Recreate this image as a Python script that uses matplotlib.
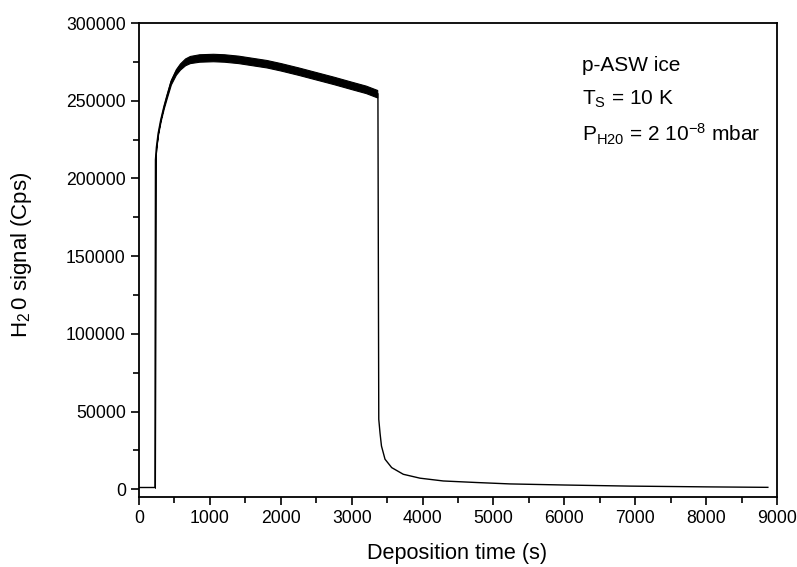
import numpy as np
import matplotlib
matplotlib.use("Agg")
import matplotlib.pyplot as plt

# values
t_before = [0, 225]
v_before = [1100, 1100]

# rise + noisy plateau (centre of the band and half width of the noise)
t_plateau = [225, 232, 245, 270, 306, 350, 390, 450, 520, 578, 650, 718, 850,
             1044, 1200, 1400, 1600, 1800, 2000, 2250, 2500, 2750, 3000, 3200, 3360]
v_plateau = [1100, 212000, 220000, 229000, 237600, 246000, 252600, 262000,
             268500, 272000, 275000, 276500, 277500, 277800, 277500, 276600,
             275200, 273800, 271800, 269000, 266000, 263000, 259800, 257300, 254500]
noise_hw = [0, 0, 300, 500, 700, 900, 1200, 1500, 1800, 2000, 2200, 2300, 2400,
            2400, 2400, 2400, 2400, 2400, 2400, 2400, 2400, 2400, 2400, 2400, 2400]

# shutter closed, decay
t_decay = [3370, 3378, 3382, 3400, 3420, 3470, 3564, 3728, 3963, 4292, 4763,
           5233, 6000, 6915, 8000, 8870]
v_decay = [254500, 110000, 45000, 36000, 27800, 19300, 13900, 9600, 7100, 5300,
           4300, 3400, 2700, 2000, 1500, 1200]

plt.rcParams["font.family"] = ["Liberation Sans", "DejaVu Sans"]
plt.rcParams["mathtext.fontset"] = "custom"
plt.rcParams["mathtext.rm"] = "Liberation Sans"
plt.rcParams["mathtext.it"] = "Liberation Sans"
plt.rcParams["mathtext.default"] = "regular"

fig = plt.figure(figsize=(7.97, 5.67), dpi=100)
ax = fig.add_axes([0.1744, 0.1235, 0.8006, 0.8359])

tp = np.array(t_plateau)
vp = np.array(v_plateau)
hw = np.array(noise_hw)

t_all = t_before + t_plateau + t_decay
v_all = v_before + v_plateau + v_decay
ax.plot(t_all, v_all, color="black", lw=1.0)
ax.fill_between(tp, vp - hw, vp + hw, color="black", lw=0.8, edgecolor="black")

ax.set_xlim(0, 9000)
ax.set_ylim(-5000, 300000)
ax.set_xticks(np.arange(0, 9001, 1000))
ax.set_xticks(np.arange(500, 9000, 1000), minor=True)
ax.set_yticks(np.arange(0, 300001, 50000))
ax.set_yticks(np.arange(25000, 300000, 50000), minor=True)
ax.tick_params(which="both", direction="out", width=1.2, labelsize=12.7)
ax.tick_params(which="major", length=6)
ax.tick_params(which="minor", length=4)
ax.tick_params(top=False, right=False)
for s in ax.spines.values():
    s.set_linewidth(1.3)

ax.set_xlabel("Deposition time (s)", fontsize=15.6, va="top")
ax.xaxis.set_label_coords(0.499, -0.097)
ax.set_ylabel("H$_2\\,$0 signal (Cps)", fontsize=16)
ax.yaxis.set_label_coords(-0.165, 0.51)

ax.text(0.694, 0.899, "p-ASW ice", transform=ax.transAxes, fontsize=15, va="baseline")
ax.text(0.694, 0.827, "T$_S$ = 10 K", transform=ax.transAxes, fontsize=15, va="baseline")
ax.text(0.694, 0.751, "P$_{H20}$ = 2 10$^{-8}$ mbar", transform=ax.transAxes, fontsize=15,
        va="baseline")

fig.savefig("out.png", dpi=100)
